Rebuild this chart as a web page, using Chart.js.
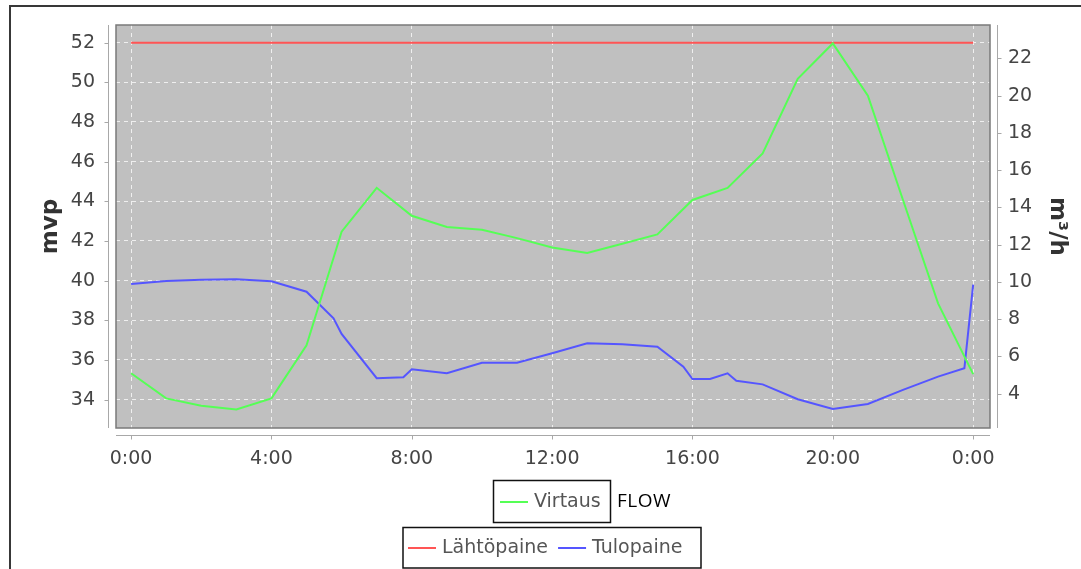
<!DOCTYPE html>
<html>
<head>
<meta charset="utf-8">
<title>Virtaus ja paineet</title>
<script src="https://cdn.jsdelivr.net/npm/chart.js@4.4.1/dist/chart.umd.min.js"></script>
<style>
  body { margin: 0; background: #fff; }
  canvas { display: block; }
</style>
</head>
<body>
<canvas id="myChart" width="1081" height="569"></canvas>
<script>
// hourly samples (hours from midnight)
var hours = [0, 1, 2, 3, 4, 5, 6, 7, 8, 9, 10, 11, 12, 13, 14, 15, 16, 17, 18, 19, 20, 21, 22, 23, 24];
var virtaus = [5.1, 3.75, 3.35, 3.15, 3.75, 6.6, 12.7, 15.05, 13.55, 12.95, 12.8, 12.35, 11.85, 11.55, 12.05, 12.55, 14.4, 15.05, 16.9, 20.9, 22.8, 20.0, 14.4, 8.85, 5.05];
var lahtopaine = [52, 52, 52, 52, 52, 52, 52, 52, 52, 52, 52, 52, 52, 52, 52, 52, 52, 52, 52, 52, 52, 52, 52, 52, 52];

// inlet pressure is logged at irregular times
var tuloHours = [0, 1, 2, 3, 4, 5, 5.77, 6, 7, 7.76, 8, 9, 10, 11, 12, 13, 14, 15, 15.74, 16, 16.5, 17, 17.25, 18, 19, 20, 21, 22, 23, 23.75, 24];
var tulopaine = [39.83, 39.98, 40.05, 40.07, 39.97, 39.44, 38.1, 37.31, 35.08, 35.13, 35.53, 35.33, 35.86, 35.86, 36.34, 36.84, 36.79, 36.67, 35.66, 35.04, 35.04, 35.33, 34.95, 34.77, 34.02, 33.53, 33.78, 34.49, 35.16, 35.58, 39.8];

var xTicks = [0, 4, 8, 12, 16, 20, 24];
var mvpTicks = [34, 36, 38, 40, 42, 44, 46, 48, 50, 52];
var flowTicks = [4, 6, 8, 10, 12, 14, 16, 18, 20, 22];

var FONT = 'DejaVu Sans';
var TICK_COLOR = '#454545';
var AXIS_COLOR = '#a8a8a8';

var pts = function(xs, ys) {
    return xs.map(function(x, i) { return { x: x, y: ys[i] }; });
};

var fixTicks = function(list) {
    return function(scale) {
        scale.ticks = list.map(function(v) { return { value: v }; });
    };
};

// fixed box size, and no extra edge padding for the tick labels
var fitTo = function(prop, size) {
    return function(s) {
        s[prop] = size;
        s.paddingTop = 0; s.paddingBottom = 0;
        s.paddingLeft = 0; s.paddingRight = 0;
    };
};

// grey plot background, outer frame, offset axis lines, plot outline
var framePlugin = {
    id: 'frame',
    beforeDraw: function(chart) {
        var ctx = chart.ctx, a = chart.chartArea;
        ctx.save();
        ctx.fillStyle = '#c0c0c0';
        ctx.fillRect(a.left, a.top, a.right - a.left, a.bottom - a.top);
        ctx.fillStyle = '#383838';
        ctx.fillRect(10, 5, chart.width - 10, 2);
        ctx.fillRect(9, 5, 2, chart.height - 5);
        ctx.restore();
    },
    afterDraw: function(chart) {
        var ctx = chart.ctx, a = chart.chartArea;
        var sx = chart.scales.x, yl = chart.scales.y, yr = chart.scales.y1;
        ctx.save();
        ctx.strokeStyle = '#7a7a7a';
        ctx.lineWidth = 1.5;
        ctx.strokeRect(a.left, a.top, a.right - a.left, a.bottom - a.top);

        ctx.strokeStyle = AXIS_COLOR;
        ctx.lineWidth = 1;
        ctx.beginPath();
        // left axis
        var lx = a.left - 7.5;
        ctx.moveTo(lx, a.top); ctx.lineTo(lx, a.bottom);
        mvpTicks.forEach(function(v) {
            var y = Math.round(yl.getPixelForValue(v)) + 0.5;
            ctx.moveTo(lx - 4, y); ctx.lineTo(lx, y);
        });
        // right axis
        var rx = a.right + 7.5;
        ctx.moveTo(rx, a.top); ctx.lineTo(rx, a.bottom);
        flowTicks.forEach(function(v) {
            var y = Math.round(yr.getPixelForValue(v)) + 0.5;
            ctx.moveTo(rx, y); ctx.lineTo(rx + 4, y);
        });
        // time axis
        var by = a.bottom + 7.5;
        ctx.moveTo(a.left, by); ctx.lineTo(a.right, by);
        xTicks.forEach(function(v) {
            var x = Math.round(sx.getPixelForValue(v)) + 0.5;
            ctx.moveTo(x, by); ctx.lineTo(x, by + 4);
        });
        ctx.stroke();
        ctx.restore();
    }
};

// two boxed legends under the plot, plus the FLOW note
var legendPlugin = {
    id: 'boxLegends',
    afterDraw: function(chart) {
        var ctx = chart.ctx;
        var ds = chart.data.datasets;
        var drawItem = function(d, x, y) {
            ctx.strokeStyle = d.borderColor;
            ctx.lineWidth = 2;
            ctx.beginPath();
            ctx.moveTo(x, y); ctx.lineTo(x + 28, y);
            ctx.stroke();
            ctx.fillStyle = '#555';
            ctx.fillText(d.label, x + 34, y);
            return x + 34 + ctx.measureText(d.label).width;
        };
        ctx.save();
        ctx.font = '19px "' + FONT + '"';
        ctx.textBaseline = 'middle';
        ctx.textAlign = 'left';

        ctx.strokeStyle = '#111';
        ctx.lineWidth = 1.5;
        ctx.strokeRect(493.5, 480.5, 117, 42);
        drawItem(ds[0], 500, 502);

        ctx.strokeStyle = '#111';
        ctx.lineWidth = 1.5;
        ctx.strokeRect(403, 527.5, 298, 40.5);
        var end = drawItem(ds[1], 408, 548);
        drawItem(ds[2], end + 10, 548);

        ctx.fillStyle = '#000';
        ctx.font = '19px "Open Sans"';
        ctx.letterSpacing = '0.5px';
        ctx.fillText('FLOW', 617, 502);
        ctx.restore();
    }
};

Chart.defaults.font.family = FONT;
Chart.defaults.font.size = 19;
Chart.defaults.color = TICK_COLOR;

var myChart = new Chart(document.getElementById('myChart'), {
    type: 'line',
    data: {
        datasets: [{
            label: 'Virtaus',
            data: pts(hours, virtaus),
            yAxisID: 'y1',
            borderColor: '#55ff55',
            borderWidth: 2,
            pointRadius: 0,
            tension: 0
        }, {
            label: 'Lähtöpaine',
            data: pts(hours, lahtopaine),
            yAxisID: 'y',
            borderColor: '#ff5555',
            borderWidth: 2,
            pointRadius: 0,
            tension: 0
        }, {
            label: 'Tulopaine',
            data: pts(tuloHours, tulopaine),
            yAxisID: 'y',
            borderColor: '#5555ff',
            borderWidth: 2,
            pointRadius: 0,
            tension: 0
        }]
    },
    options: {
        responsive: false,
        animation: false,
        layout: { padding: { top: 25 } },
        plugins: {
            legend: { display: false },
            tooltip: { enabled: false }
        },
        scales: {
            x: {
                type: 'linear',
                min: -0.43,
                max: 24.48,
                afterBuildTicks: fixTicks(xTicks),
                afterFit: fitTo('height', 141),
                grid: { color: 'rgba(255,255,255,0.75)', lineWidth: 1, drawTicks: false },
                border: { display: false, dash: [4, 4] },
                ticks: {
                    padding: 20,
                    color: TICK_COLOR,
                    callback: function(v) { return (v % 24) + ':00'; }
                }
            },
            y: {
                position: 'left',
                min: 32.57,
                max: 52.89,
                afterBuildTicks: fixTicks(mvpTicks),
                afterFit: fitTo('width', 116),
                grid: { color: 'rgba(255,255,255,0.75)', lineWidth: 1, drawTicks: false },
                border: { display: false, dash: [4, 4] },
                ticks: { padding: 21, color: TICK_COLOR },
                title: {
                    display: true,
                    text: 'mvp',
                    color: '#333',
                    font: { size: 23, weight: 'bold' },
                    padding: { top: 37, bottom: 0 }
                }
            },
            y1: {
                position: 'right',
                min: 2.16,
                max: 23.79,
                afterBuildTicks: fixTicks(flowTicks),
                afterFit: fitTo('width', 91),
                grid: { display: false, drawTicks: false },
                border: { display: false },
                ticks: { padding: 18, color: TICK_COLOR },
                title: {
                    display: true,
                    text: 'm³/h',
                    color: '#333',
                    font: { size: 23, weight: 'bold' },
                    padding: { top: 10, bottom: 0 }
                }
            }
        }
    },
    plugins: [framePlugin, legendPlugin]
});
</script>
</body>
</html>
